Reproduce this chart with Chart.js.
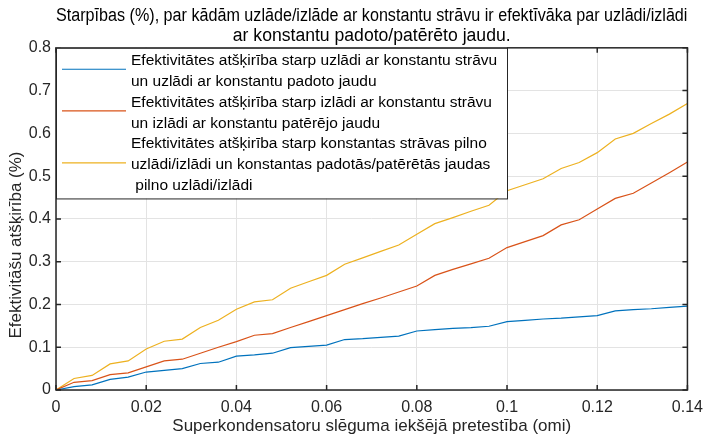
<!DOCTYPE html>
<html>
<head>
<meta charset="utf-8">
<script src="https://cdn.jsdelivr.net/npm/chart.js@4/dist/chart.umd.min.js"></script>
<style>
  html, body { margin: 0; padding: 0; background: #fff; }
  #wrap { width: 711px; height: 439px; }
</style>
</head>
<body>
<div id="wrap"><canvas id="c"></canvas></div>
<script>
// --- dati (nolasīti no attēla) ---
const xValues = [0, 0.004, 0.008, 0.012, 0.016, 0.02, 0.024, 0.028, 0.032, 0.036,
  0.04, 0.044, 0.048, 0.052, 0.056, 0.06, 0.064, 0.068, 0.072, 0.076,
  0.08, 0.084, 0.088, 0.092, 0.096, 0.1, 0.104, 0.108, 0.112, 0.116,
  0.12, 0.124, 0.128, 0.132, 0.136, 0.14];

const chargeDiff = [0, 0.008, 0.012, 0.025, 0.030, 0.042, 0.046, 0.050, 0.062, 0.065,
  0.079, 0.082, 0.086, 0.099, 0.102, 0.105, 0.118, 0.120, 0.123, 0.126,
  0.138, 0.141, 0.144, 0.146, 0.149, 0.160, 0.163, 0.166, 0.168, 0.171,
  0.174, 0.185, 0.188, 0.190, 0.193, 0.196];

const dischargeDiff = [0, 0.018, 0.022, 0.036, 0.040, 0.054, 0.068, 0.072, 0.086, 0.100,
  0.113, 0.128, 0.132, 0.146, 0.160, 0.174, 0.188, 0.202, 0.215, 0.229,
  0.243, 0.268, 0.282, 0.295, 0.308, 0.333, 0.347, 0.361, 0.386, 0.398,
  0.423, 0.448, 0.460, 0.484, 0.508, 0.533];

const fullCycleDiff = [0, 0.027, 0.034, 0.061, 0.068, 0.096, 0.114, 0.119, 0.146, 0.163,
  0.189, 0.206, 0.211, 0.238, 0.253, 0.268, 0.294, 0.309, 0.324, 0.339,
  0.364, 0.389, 0.403, 0.418, 0.432, 0.466, 0.480, 0.494, 0.518, 0.532,
  0.555, 0.587, 0.600, 0.623, 0.645, 0.670];

const seriesLabels = [
  ["Efektivitātes atšķirība starp uzlādi ar konstantu strāvu", "un uzlādi ar konstantu padoto jaudu"],
  ["Efektivitātes atšķirība starp izlādi ar konstantu strāvu", "un izlādi ar konstantu patērējo jaudu"],
  ["Efektivitātes atšķirība starp konstantas strāvas pilno", "uzlādi/izlādi un konstantas padotās/patērētās jaudas", " pilno uzlādi/izlādi"],
];

const xTicks = [0, 0.02, 0.04, 0.06, 0.08, 0.1, 0.12, 0.14];
const xTickLabels = ["0", "0.02", "0.04", "0.06", "0.08", "0.1", "0.12", "0.14"];
const yTicks = [0, 0.1, 0.2, 0.3, 0.4, 0.5, 0.6, 0.7, 0.8];
const yTickLabels = ["0", "0.1", "0.2", "0.3", "0.4", "0.5", "0.6", "0.7", "0.8"];
const yTitle = "Efektivitāšu atšķirība (%)";

const COLORS = ["#0072BD", "#D95319", "#EDB120"];
const AXIS_COLOR = "#262626";
const FONT = "'Liberation Sans', Arial, sans-serif";

const toPoints = (arr) => arr.map((y, i) => ({ x: xValues[i], y }));

// rāmis ar iekšējām atzīmēm (MATLAB stils)
const boxTicksPlugin = {
  id: "boxTicks",
  afterDatasetsDraw(chart) {
    const { ctx, chartArea: a, scales } = chart;
    const len = 5;
    ctx.save();
    ctx.strokeStyle = AXIS_COLOR;
    ctx.lineWidth = 1.5;
    ctx.strokeRect(a.left, a.top, a.right - a.left, a.bottom - a.top);
    ctx.beginPath();
    xTicks.forEach((v) => {
      const px = scales.x.getPixelForValue(v);
      ctx.moveTo(px, a.bottom); ctx.lineTo(px, a.bottom - len);
      ctx.moveTo(px, a.top); ctx.lineTo(px, a.top + len);
    });
    yTicks.forEach((v) => {
      const py = scales.y.getPixelForValue(v);
      ctx.moveTo(a.left, py); ctx.lineTo(a.left + len, py);
      ctx.moveTo(a.right, py); ctx.lineTo(a.right - len, py);
    });
    ctx.stroke();

    // y ass nosaukums (nobīdīts uz leju kā oriģinālā)
    ctx.translate(16, 245);
    ctx.rotate(-Math.PI / 2);
    ctx.fillStyle = AXIS_COLOR;
    ctx.font = "17px " + FONT;
    ctx.textAlign = "center";
    ctx.textBaseline = "middle";
    ctx.fillText(yTitle, 0, 0);
    ctx.restore();
  },
};

// leģenda ar vairāku rindu tekstu
const boxLegendPlugin = {
  id: "boxLegend",
  afterDraw(chart) {
    const { ctx, chartArea: a } = chart;
    const lineH = 20.8;
    const left = a.left;
    const top = a.top;
    const width = 451;
    const totalLines = seriesLabels.reduce((s, l) => s + l.length, 0);
    const height = totalLines * lineH + 5;

    ctx.save();
    ctx.fillStyle = "#fff";
    ctx.fillRect(left, top, width, height);
    ctx.strokeStyle = AXIS_COLOR;
    ctx.lineWidth = 1;
    ctx.strokeRect(left + 0.5, top + 0.5, width, height);

    ctx.font = "15.5px " + FONT;
    ctx.textBaseline = "middle";
    ctx.textAlign = "left";
    let y = top + 13;
    seriesLabels.forEach((lines, i) => {
      const first = y;
      lines.forEach((t) => {
        ctx.fillStyle = "#000";
        ctx.fillText(t, left + 75, y);
        y += lineH;
      });
      const mid = (first + y - lineH) / 2 - 2;
      ctx.strokeStyle = COLORS[i];
      ctx.lineWidth = 1.2;
      ctx.beginPath();
      ctx.moveTo(left + 6, mid);
      ctx.lineTo(left + 70, mid);
      ctx.stroke();
    });
    ctx.restore();
  },
};

new Chart(document.getElementById("c"), {
  type: "line",
  data: {
    datasets: [chargeDiff, dischargeDiff, fullCycleDiff].map((arr, i) => ({
      label: seriesLabels[i].join(" "),
      data: toPoints(arr),
      borderColor: COLORS[i],
      borderWidth: 1.2,
      pointRadius: 0,
      tension: 0,
      fill: false,
    })),
  },
  options: {
    responsive: true,
    maintainAspectRatio: false,
    animation: false,
    events: [],
    layout: { padding: { left: 0, right: 17, top: 0, bottom: 0 } },
    plugins: {
      legend: { display: false },
      tooltip: { enabled: false },
      title: {
        display: true,
        fullSize: false,
        text: [
          "Starpības (%), par kādām uzlāde/izlāde ar konstantu strāvu ir efektīvāka par uzlādi/izlādi",
          "ar konstantu padoto/patērēto jaudu.",
        ],
        color: "#000",
        font: { family: FONT, size: 17.6, weight: "normal", lineHeight: 1.16 },
        padding: { top: 6, bottom: 1 },
      },
    },
    scales: {
      x: {
        type: "linear",
        min: 0,
        max: 0.14,
        afterBuildTicks: (s) => { s.ticks = xTicks.map((v) => ({ value: v })); },
        afterFit: (s) => { s.height = 49; },
        grid: { color: "#e3e3e3", drawTicks: false },
        border: { display: false },
        ticks: {
          color: AXIS_COLOR,
          font: { family: FONT, size: 16 },
          padding: 8,
          maxRotation: 0,
          callback: (v, i) => xTickLabels[i],
        },
        title: {
          display: true,
          text: "Superkondensatoru slēguma iekšējā pretestība (omi)",
          color: AXIS_COLOR,
          font: { family: FONT, size: 17 },
          padding: { top: 0, bottom: 2 },
        },
      },
      y: {
        type: "linear",
        min: 0,
        max: 0.8,
        afterBuildTicks: (s) => { s.ticks = yTicks.map((v) => ({ value: v })); },
        afterFit: (s) => { s.width = 56; },
        grid: { color: "#e3e3e3", drawTicks: false },
        border: { display: false },
        ticks: {
          color: AXIS_COLOR,
          font: { family: FONT, size: 16 },
          padding: 5,
          callback: (v, i) => yTickLabels[i],
        },
      },
    },
  },
  plugins: [boxTicksPlugin, boxLegendPlugin],
});
</script>
</body>
</html>
